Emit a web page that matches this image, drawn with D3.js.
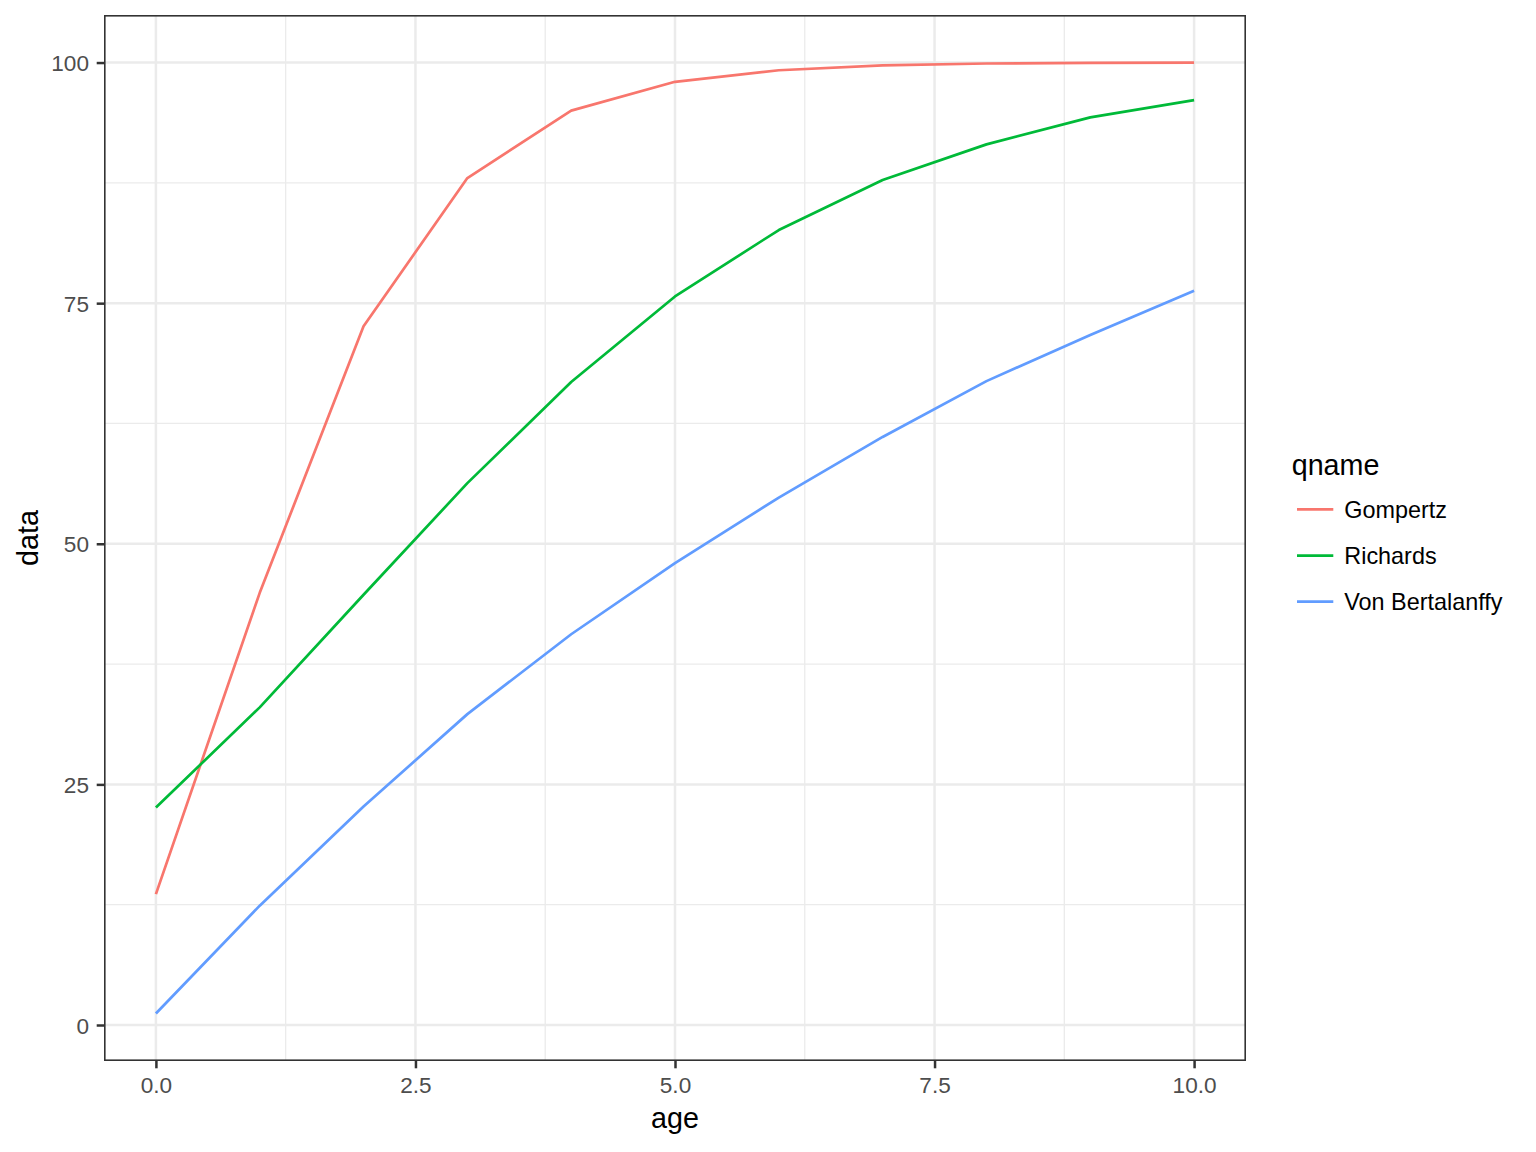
<!DOCTYPE html>
<html>
<head>
<meta charset="utf-8">
<script src="https://cdn.jsdelivr.net/npm/d3@7"></script>
<style>
  html, body { margin: 0; padding: 0; background: #fff; }
  svg { display: block; font-family: "Liberation Sans", Arial, sans-serif; }
</style>
</head>
<body>
<script>
// ---- data ----
const ages = [0, 1, 2, 3, 4, 5, 6, 7, 8, 9, 10];
const seriesNames = ["Gompertz", "Richards", "Von Bertalanffy"];
const gompertz = [13.6, 44.9, 72.6, 88.0, 95.0, 98.0, 99.2, 99.7, 99.9, 99.96, 100.0];
const richards = [22.6, 33.0, 44.7, 56.3, 66.8, 75.7, 82.6, 87.8, 91.5, 94.3, 96.1];
const vonBertalanffy = [1.2, 12.4, 22.7, 32.3, 40.6, 48.0, 54.8, 61.1, 66.9, 71.7, 76.3];
const xTicks = [0, 2.5, 5, 7.5, 10];
const xTickLabels = ["0.0", "2.5", "5.0", "7.5", "10.0"];
const xMinor = [1.25, 3.75, 6.25, 8.75];
const yTicks = [0, 25, 50, 75, 100];
const yTickLabels = ["0", "25", "50", "75", "100"];
const yMinor = [12.5, 37.5, 62.5, 87.5];
const colors = ["#F8766D", "#00BA38", "#619CFF"];

const seriesValues = [gompertz, richards, vonBertalanffy];

const W = 1536, H = 1152;
const panel = { left: 104, right: 1246, top: 15, bottom: 1061 };
const LW = 2.7;

const svg = d3.select("body").append("svg").attr("width", W).attr("height", H);

// ggplot-style expanded domains
const allVals = seriesValues.flat();
const yMin = d3.min(allVals), yMax = d3.max(allVals);
const yPad = (yMax - yMin) * 0.05;
const x = d3.scaleLinear().domain([-0.5, 10.5]).range([panel.left, panel.right]);
const y = d3.scaleLinear().domain([yMin - yPad, yMax + yPad]).range([panel.bottom, panel.top]);

svg.append("defs").append("clipPath").attr("id", "pclip").append("rect")
  .attr("x", panel.left).attr("y", panel.top)
  .attr("width", panel.right - panel.left).attr("height", panel.bottom - panel.top);

const pg = svg.append("g").attr("clip-path", "url(#pclip)");

// panel background
pg.append("rect").attr("x", panel.left).attr("y", panel.top)
  .attr("width", panel.right - panel.left).attr("height", panel.bottom - panel.top)
  .attr("fill", "#fff");

// minor grid
pg.selectAll(".ymin").data(yMinor).enter().append("line")
  .attr("x1", panel.left).attr("x2", panel.right)
  .attr("y1", d => y(d)).attr("y2", d => y(d))
  .attr("stroke", "#EBEBEB").attr("stroke-width", 1.3);
pg.selectAll(".xmin").data(xMinor).enter().append("line")
  .attr("y1", panel.top).attr("y2", panel.bottom)
  .attr("x1", d => x(d)).attr("x2", d => x(d))
  .attr("stroke", "#EBEBEB").attr("stroke-width", 1.3);
// major grid
pg.selectAll(".ymaj").data(yTicks).enter().append("line")
  .attr("x1", panel.left).attr("x2", panel.right)
  .attr("y1", d => y(d)).attr("y2", d => y(d))
  .attr("stroke", "#EBEBEB").attr("stroke-width", 2.5);
pg.selectAll(".xmaj").data(xTicks).enter().append("line")
  .attr("y1", panel.top).attr("y2", panel.bottom)
  .attr("x1", d => x(d)).attr("x2", d => x(d))
  .attr("stroke", "#EBEBEB").attr("stroke-width", 2.5);

// lines
const line = d3.line().x((d, i) => x(ages[i])).y(d => y(d));
pg.append("g").selectAll("path").data(seriesValues).enter().append("path")
  .attr("d", d => line(d))
  .attr("fill", "none")
  .attr("stroke", (d, i) => colors[i])
  .attr("stroke-width", LW)
  .attr("stroke-linejoin", "round")
  .attr("stroke-linecap", "butt");

// panel border (clipped: inner half visible)
pg.append("rect").attr("x", panel.left).attr("y", panel.top)
  .attr("width", panel.right - panel.left).attr("height", panel.bottom - panel.top)
  .attr("fill", "none").attr("stroke", "#333333").attr("stroke-width", 3.2);

// axes
const xAxis = d3.axisBottom(x).tickValues(xTicks)
  .tickFormat((d, i) => xTickLabels[i]).tickSize(7.3).tickPadding(5);
const gx = svg.append("g").attr("transform", `translate(0,${panel.bottom})`).call(xAxis);
gx.select(".domain").remove();
gx.selectAll(".tick line").attr("stroke", "#333333").attr("stroke-width", 2.5);
gx.selectAll(".tick text").attr("fill", "#4D4D4D").attr("font-size", 22.6)
  .attr("font-family", "Liberation Sans, Arial, sans-serif")
  .attr("dy", null)
  .attr("y", 1093.3 - panel.bottom);

const yAxis = d3.axisLeft(y).tickValues(yTicks)
  .tickFormat((d, i) => yTickLabels[i]).tickSize(7.3).tickPadding(5);
const gy = svg.append("g").attr("transform", `translate(${panel.left},0)`).call(yAxis);
gy.select(".domain").remove();
gy.selectAll(".tick line").attr("stroke", "#333333").attr("stroke-width", 2.5);
gy.selectAll(".tick text").attr("fill", "#4D4D4D").attr("font-size", 22.6)
  .attr("font-family", "Liberation Sans, Arial, sans-serif")
  .attr("x", 89 - panel.left).attr("dy", "0.36em");

// axis titles
svg.append("text").attr("x", (panel.left + panel.right) / 2).attr("y", 1128.3)
  .attr("text-anchor", "middle").attr("font-size", 28.7).attr("fill", "#000")
  .text("age");
svg.append("text")
  .attr("transform", `translate(37.5,${(panel.top + panel.bottom) / 2}) rotate(-90)`)
  .attr("text-anchor", "middle").attr("font-size", 28.7).attr("fill", "#000")
  .text("data");

// legend
const lg = svg.append("g");
lg.append("text").attr("x", 1291.7).attr("y", 475).attr("font-size", 28.7)
  .attr("fill", "#000").text("qname");
const keyY = [509.3, 555.7, 601.7];
seriesNames.forEach((name, i) => {
  lg.append("line").attr("x1", 1297).attr("x2", 1333.3)
    .attr("y1", keyY[i]).attr("y2", keyY[i])
    .attr("stroke", colors[i]).attr("stroke-width", LW);
  lg.append("text").attr("x", 1344.3).attr("y", keyY[i]).attr("dy", "0.36em")
    .attr("font-size", 23.4).attr("fill", "#000").text(name);
});
</script>
</body>
</html>
